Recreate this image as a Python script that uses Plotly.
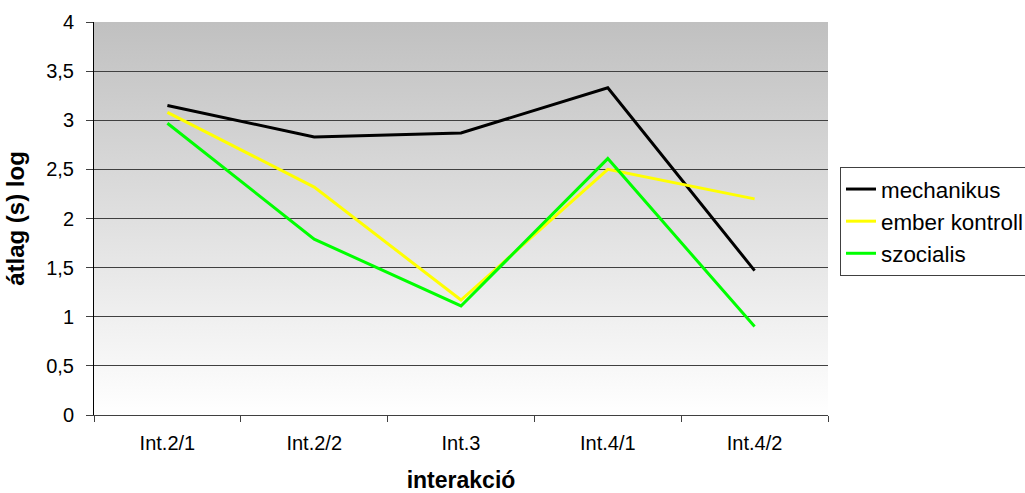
import base64
import plotly.graph_objects as go

# Categories and per-group mean log times
categories = ["Int.2/1", "Int.2/2", "Int.3", "Int.4/1", "Int.4/2"]
mechanikus = [3.15, 2.83, 2.87, 3.33, 1.47]
ember_kontroll = [3.08, 2.32, 1.17, 2.50, 2.20]
szocialis = [2.97, 1.79, 1.11, 2.61, 0.90]

series_names = ["mechanikus", "ember kontroll", "szocialis"]
series_values = [mechanikus, ember_kontroll, szocialis]
series_colors = ["#000000", "#ffff00", "#00ff00"]

y_ticks = [0, 0.5, 1, 1.5, 2, 2.5, 3, 3.5, 4]
y_tick_text = ["0", "0,5", "1", "1,5", "2", "2,5", "3", "3,5", "4"]

FONT = "Liberation Sans, Arial, sans-serif"

fig = go.Figure()
for name, vals, col in zip(series_names, series_values, series_colors):
    fig.add_trace(go.Scatter(
        x=categories, y=vals, name=name, mode="lines",
        line=dict(color=col, width=3),
    ))

# Vertical grey-to-white gradient behind the plot area
svg = (
    '<svg xmlns="http://www.w3.org/2000/svg" width="100" height="100" preserveAspectRatio="none">'
    '<defs><linearGradient id="g" x1="0" y1="0" x2="0" y2="1">'
    '<stop offset="0" stop-color="#c0c0c0"/><stop offset="1" stop-color="#ffffff"/>'
    '</linearGradient></defs><rect width="100" height="100" fill="url(#g)"/></svg>'
)
bg_src = "data:image/svg+xml;base64," + base64.b64encode(svg.encode()).decode()

fig.update_layout(
    width=1025, height=493,
    margin=dict(l=94, r=197, t=22, b=78),
    paper_bgcolor="white",
    plot_bgcolor="rgba(0,0,0,0)",
    font=dict(family=FONT, color="#000000", size=20),
    images=[dict(source=bg_src, xref="paper", yref="paper", x=0, y=1,
                 sizex=1, sizey=1, sizing="stretch", layer="below")],
    showlegend=True,
    legend=dict(
        xref="container", yref="container",
        x=0.8195, y=0.6613, xanchor="left", yanchor="top",
        bgcolor="white", bordercolor="#404040", borderwidth=1,
        font=dict(family=FONT, size=22.4, color="#000000"),
    ),
    xaxis=dict(
        range=[-0.5, 4.5], tickson="boundaries", ticks="outside", ticklen=6,
        tickcolor="#404040", showline=True, linecolor="#404040", linewidth=1,
        showgrid=False, tickfont=dict(size=20), ticklabelstandoff=10,
        title=dict(text="<b>interakció</b>", font=dict(size=23), standoff=24),
        automargin=False,
    ),
    yaxis=dict(
        range=[0, 4], tickvals=y_ticks, ticktext=y_tick_text,
        ticks="outside", ticklen=7, tickcolor="#404040",
        showline=True, linecolor="#000000", linewidth=1,
        showgrid=True, gridcolor="#404040", gridwidth=1, zeroline=False,
        tickfont=dict(size=20), ticklabelstandoff=8,
        title=dict(text="<b>átlag (s) log</b>", font=dict(size=24), standoff=14),
        automargin=False,
    ),
)

fig.write_html("out.html")
